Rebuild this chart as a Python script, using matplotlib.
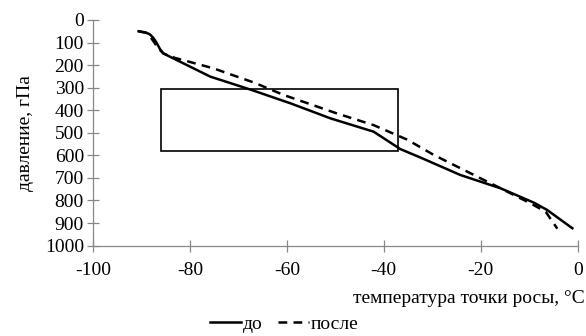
import matplotlib
matplotlib.use("Agg")
import matplotlib.pyplot as plt
from matplotlib.patches import Rectangle

plt.rcParams['font.family'] = ['Liberation Serif', 'DejaVu Serif']

# "до" (before)
t_before = [-90.6, -89.2, -88.3, -87.6, -86.9, -86.2, -85.5, -84.1, -75.8, -67.3, -59.3, -51.0, -42.1, -36.6, -32.4, -24.2, -15.9, -9.0, -6.3, -1.1]
p_before = [50, 55, 63, 78, 100, 128, 148, 163, 251, 310, 369, 436, 495, 572, 610, 687, 746, 810, 842, 923]
# "после" (after)
t_after = [-90.6, -89.0, -88.4, -88.0, -87.4, -86.6, -85.5, -83.1, -75.2, -66.7, -60.7, -49.7, -42.1, -35.2, -29.7, -22.8, -15.9, -9.7, -6.6, -4.2]
p_after = [50, 57, 66, 80, 98, 125, 148, 168, 214, 278, 332, 414, 466, 530, 598, 672, 746, 813, 850, 925]

# highlighted region
rect_t = (-86.0, -37.0)
rect_p = (305, 580)

xticks = [-100, -80, -60, -40, -20, 0]
yticks = list(range(0, 1001, 100))

fig = plt.figure(figsize=(5.86, 3.36), dpi=100)
ax = fig.add_axes([0.1587, 0.269, 0.8271, 0.6715])

ax.plot(t_before, p_before, color='black', lw=1.8, label='до')
ax.plot(t_after, p_after, color='black', lw=1.8, ls=(0, (3.5, 2.5)), label='после')
ax.add_patch(Rectangle((rect_t[0], rect_p[0]), rect_t[1] - rect_t[0], rect_p[1] - rect_p[0],
                       fill=False, edgecolor='black', lw=1.2))

ax.set_xlim(-100, 0)
ax.set_ylim(1000, 0)
ax.set_xticks(xticks)
ax.set_yticks(yticks)
ax.set_xticklabels([str(v) for v in xticks])
for s in ['top', 'right']:
    ax.spines[s].set_visible(False)
for s in ['left', 'bottom']:
    ax.spines[s].set_color('#888888')
    ax.spines[s].set_linewidth(0.9)
ax.tick_params(axis='both', direction='inout', length=9, width=0.9, color='#888888',
               labelsize=14)
ax.tick_params(axis='y', pad=2)
ax.tick_params(axis='x', pad=7)

ax.set_ylabel('давление, гПа', fontsize=14, labelpad=8)
fig.text(0.998, 0.113, 'температура точки росы, °C', ha='right', va='center', fontsize=14)

leg = fig.legend(loc='center', bbox_to_anchor=(0.485, 0.035), ncol=2, frameon=False,
                 fontsize=14, handlelength=1.6, columnspacing=0.8, handletextpad=0.1)

fig.savefig('out.png', dpi=100)
